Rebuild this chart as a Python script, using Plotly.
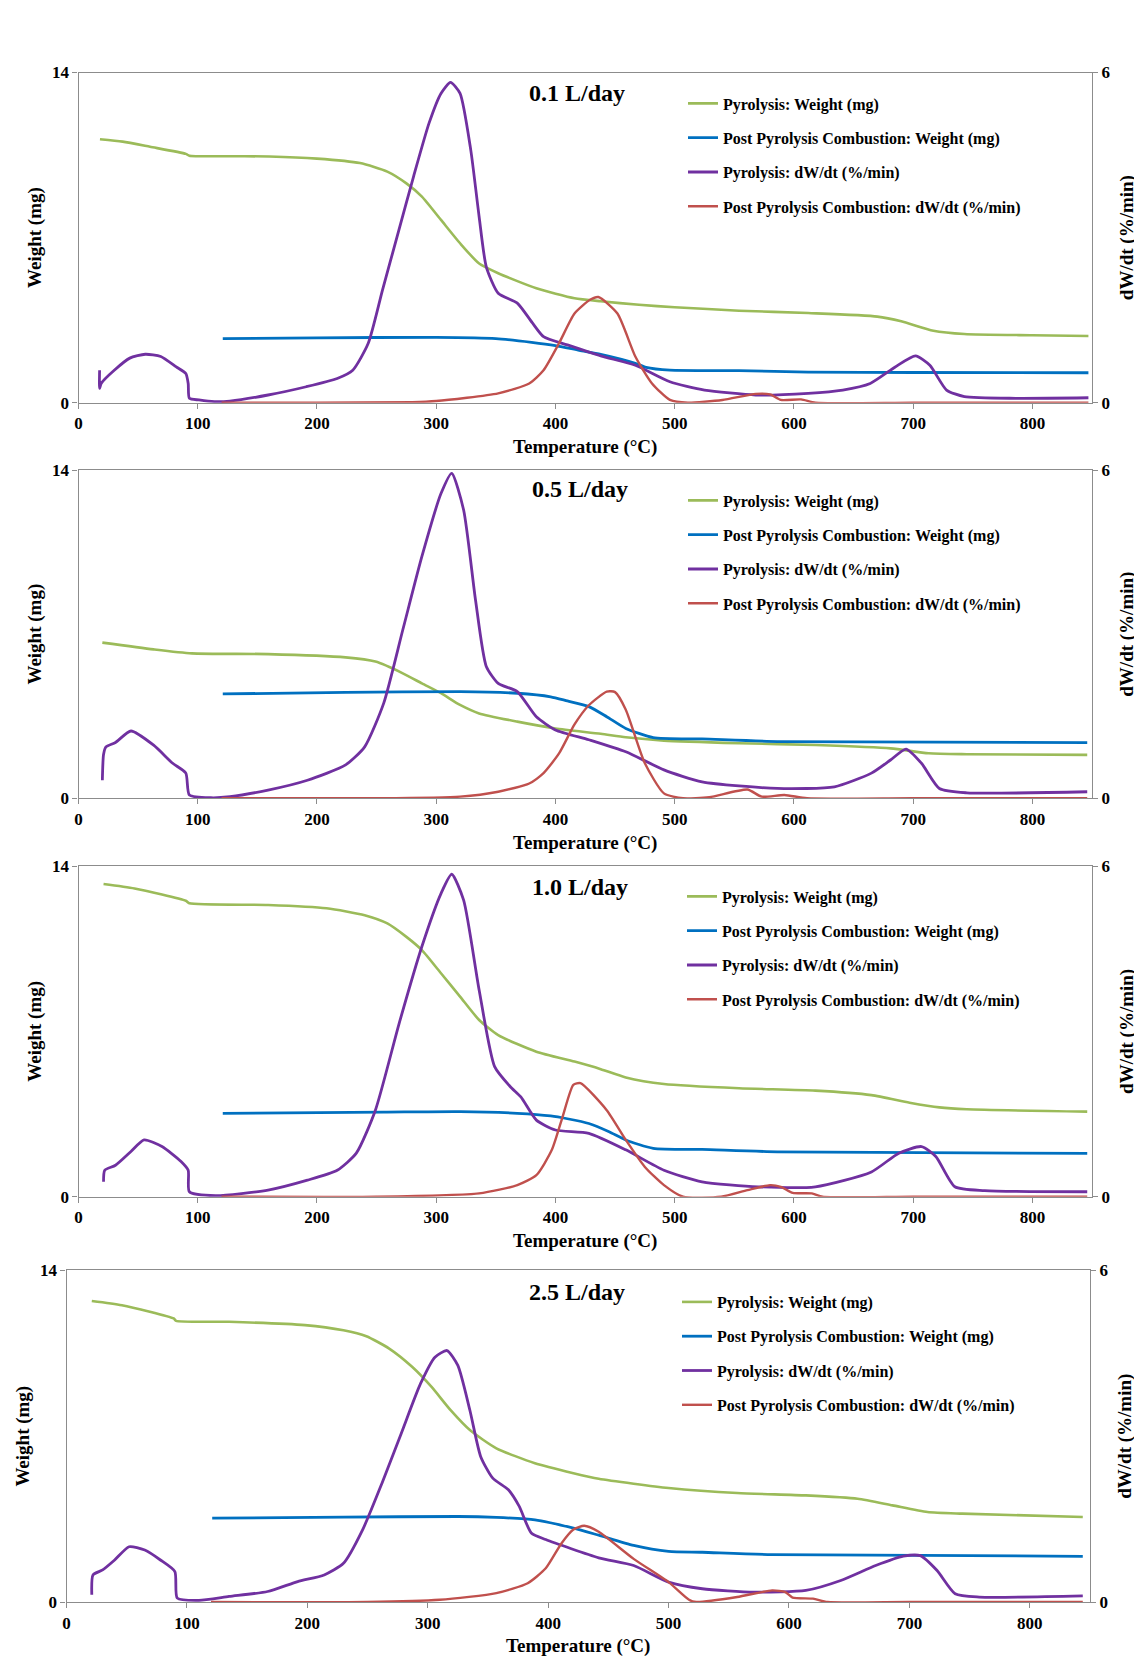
import plotly.graph_objects as go

# ---------------- data ----------------
PANEL_TITLES = ["0.1 L/day", "0.5 L/day", "1.0 L/day", "2.5 L/day"]
SERIES_NAMES = ["Pyrolysis: Weight (mg)",
                "Post Pyrolysis Combustion: Weight (mg)",
                "Pyrolysis: dW/dt (%/min)",
                "Post Pyrolysis Combustion: dW/dt (%/min)"]
X_TICKS = [0, 100, 200, 300, 400, 500, 600, 700, 800]
WEIGHT_TICKS = [0, 14]
DWDT_TICKS = [0, 6]

# Panel 1: 0.1 L/day
P1_PYRO_W_T = [18, 37, 60, 90, 93, 130, 160, 200, 236, 259, 275, 288, 304, 320, 336, 352, 384, 416, 438, 470, 500, 554, 612, 670, 690, 717, 743, 800, 847]
P1_PYRO_W = [11.17, 11.07, 10.85, 10.55, 10.47, 10.45, 10.44, 10.35, 10.16, 9.8, 9.3, 8.74, 7.75, 6.76, 5.9, 5.49, 4.85, 4.43, 4.3, 4.15, 4.05, 3.9, 3.8, 3.65, 3.45, 3.05, 2.91, 2.86, 2.83]
P1_POST_W_T = [121, 200, 300, 350, 380, 400, 420, 438, 467, 476, 496, 554, 612, 700, 847]
P1_POST_W = [2.72, 2.75, 2.77, 2.72, 2.56, 2.42, 2.22, 2.05, 1.67, 1.5, 1.38, 1.36, 1.3, 1.28, 1.27]
P1_PYRO_D_T = [17.7, 17.7, 19, 30, 43, 56, 69, 82, 90, 92, 93, 101, 114, 127, 159, 191, 217, 230, 243, 255, 268, 281, 294, 304, 312, 320, 329, 336, 342, 352, 368, 381, 390, 410, 438, 467, 496, 525, 568, 612, 641, 664, 685, 702, 714, 728, 743, 786, 847]
P1_PYRO_D = [0.59, 0.26, 0.35, 0.59, 0.81, 0.88, 0.84, 0.65, 0.53, 0.35, 0.08, 0.05, 0.02, 0.03, 0.14, 0.29, 0.44, 0.59, 1.08, 2.05, 3.08, 4.11, 5.08, 5.62, 5.82, 5.62, 4.59, 3.38, 2.47, 1.99, 1.81, 1.44, 1.2, 1.05, 0.85, 0.68, 0.38, 0.23, 0.14, 0.17, 0.23, 0.35, 0.65, 0.85, 0.68, 0.23, 0.11, 0.08, 0.09]
P1_POST_D_T = [120, 200, 280, 300, 352, 378, 390, 403, 416, 429, 436, 452, 467, 481, 496, 511, 540, 568, 580, 589, 606, 618, 700, 847]
P1_POST_D = [0.0, 0.0, 0.01, 0.03, 0.17, 0.35, 0.59, 1.08, 1.62, 1.87, 1.92, 1.62, 0.84, 0.35, 0.05, 0.0, 0.05, 0.16, 0.15, 0.05, 0.06, 0.0, 0.0, 0.0]

# Panel 2: 0.5 L/day
P2_PYRO_W_T = [20, 63, 95, 159, 224, 249, 272, 288, 304, 320, 336, 368, 400, 438, 459, 491, 554, 618, 681, 713, 745, 846]
P2_PYRO_W = [6.64, 6.35, 6.18, 6.15, 6.01, 5.83, 5.33, 4.9, 4.48, 3.98, 3.62, 3.27, 2.98, 2.75, 2.6, 2.46, 2.35, 2.27, 2.13, 1.92, 1.88, 1.85]
P2_POST_W_T = [121, 224, 320, 368, 396, 410, 428, 443, 459, 482, 523, 586, 846]
P2_POST_W = [4.45, 4.52, 4.55, 4.48, 4.33, 4.15, 3.91, 3.48, 2.98, 2.59, 2.53, 2.42, 2.37]
P2_PYRO_D_T = [20, 21, 23, 31, 44, 63, 79, 90, 93, 111, 127, 159, 192, 224, 240, 256, 272, 288, 304, 313, 323, 333, 342, 352, 368, 384, 400, 428, 459, 491, 523, 586, 634, 665, 681, 694, 707, 722, 745, 846]
P2_PYRO_D = [0.33, 0.8, 0.94, 1.02, 1.23, 0.97, 0.64, 0.46, 0.06, 0.01, 0.03, 0.15, 0.33, 0.61, 0.94, 1.74, 3.08, 4.42, 5.57, 5.94, 5.27, 3.62, 2.41, 2.1, 1.95, 1.49, 1.25, 1.07, 0.85, 0.52, 0.30, 0.18, 0.21, 0.46, 0.7, 0.9, 0.64, 0.18, 0.10, 0.12]
P2_POST_D_T = [120, 250, 320, 352, 378, 390, 403, 416, 428, 443, 450, 459, 475, 491, 507, 529, 561, 573, 592, 611, 700, 846]
P2_POST_D = [0.0, 0.0, 0.03, 0.12, 0.27, 0.46, 0.82, 1.35, 1.7, 1.95, 1.94, 1.62, 0.64, 0.09, 0.0, 0.02, 0.16, 0.03, 0.06, 0.0, 0.0, 0.0]

# Panel 3: 1.0 L/day
P3_PYRO_W_T = [21, 47, 90, 93, 159, 208, 240, 259, 275, 288, 304, 320, 336, 352, 384, 416, 438, 459, 491, 554, 618, 665, 697, 722, 745, 846]
P3_PYRO_W = [13.24, 13.05, 12.53, 12.42, 12.35, 12.21, 11.92, 11.57, 11.0, 10.44, 9.46, 8.47, 7.48, 6.84, 6.14, 5.72, 5.4, 5.05, 4.77, 4.59, 4.49, 4.3, 3.98, 3.78, 3.7, 3.6]
P3_POST_W_T = [121, 256, 320, 368, 396, 410, 428, 445, 459, 482, 523, 586, 846]
P3_POST_W = [3.53, 3.58, 3.6, 3.53, 3.42, 3.3, 3.1, 2.75, 2.4, 2.05, 2.0, 1.9, 1.83]
P3_PYRO_D_T = [21, 22, 31, 44, 55, 70, 86, 92, 93, 115, 159, 192, 217, 233, 249, 269, 288, 304, 313, 323, 336, 349, 362, 371, 384, 400, 428, 459, 491, 523, 570, 618, 665, 688, 707, 719, 735, 760, 846]
P3_PYRO_D = [0.27, 0.48, 0.57, 0.82, 1.03, 0.91, 0.64, 0.48, 0.09, 0.02, 0.12, 0.3, 0.48, 0.79, 1.57, 3.15, 4.54, 5.5, 5.85, 5.38, 3.75, 2.36, 2.0, 1.81, 1.39, 1.21, 1.15, 0.85, 0.48, 0.27, 0.18, 0.18, 0.45, 0.79, 0.91, 0.73, 0.18, 0.11, 0.09]
P3_POST_D_T = [120, 250, 336, 368, 384, 397, 406, 415, 421, 443, 459, 475, 491, 507, 539, 561, 580, 589, 599, 615, 624, 700, 846]
P3_POST_D = [0.0, 0.0, 0.06, 0.21, 0.39, 0.85, 1.45, 2.03, 2.06, 1.57, 1.03, 0.54, 0.21, 0.0, 0.0, 0.12, 0.21, 0.18, 0.07, 0.06, 0.0, 0.0, 0.0]

# Panel 4: 2.5 L/day
P4_PYRO_W_T = [21, 46, 89, 91, 135, 198, 230, 249, 268, 287, 303, 319, 335, 357, 389, 421, 442, 471, 500, 557, 614, 657, 686, 715, 744, 844]
P4_PYRO_W = [12.71, 12.53, 11.97, 11.87, 11.83, 11.69, 11.47, 11.22, 10.7, 9.93, 9.09, 8.1, 7.26, 6.49, 5.86, 5.44, 5.2, 4.99, 4.81, 4.6, 4.5, 4.36, 4.08, 3.8, 3.73, 3.59]
P4_POST_W_T = [121, 230, 325, 357, 389, 421, 442, 471, 500, 528, 586, 844]
P4_POST_W = [3.54, 3.58, 3.61, 3.57, 3.47, 3.12, 2.82, 2.39, 2.14, 2.1, 2.0, 1.93]
P4_PYRO_D_T = [21, 22, 30, 40, 52, 65, 78, 90, 92, 110, 135, 167, 192, 214, 230, 246, 262, 278, 294, 306, 316, 325, 335, 344, 354, 367, 376, 386, 398, 442, 471, 500, 528, 571, 614, 643, 672, 695, 709, 723, 738, 758, 844]
P4_PYRO_D = [0.13, 0.49, 0.58, 0.76, 1.0, 0.94, 0.76, 0.55, 0.07, 0.03, 0.1, 0.19, 0.37, 0.49, 0.7, 1.31, 2.15, 3.05, 3.95, 4.43, 4.55, 4.28, 3.47, 2.63, 2.24, 2.03, 1.73, 1.25, 1.13, 0.8, 0.66, 0.36, 0.24, 0.18, 0.21, 0.39, 0.66, 0.83, 0.84, 0.57, 0.15, 0.09, 0.11]
P4_POST_D_T = [120, 250, 310, 357, 383, 398, 411, 421, 430, 442, 471, 500, 517, 523, 557, 586, 597, 603, 620, 632, 700, 844]
P4_POST_D = [0.0, 0.0, 0.04, 0.16, 0.34, 0.61, 1.06, 1.31, 1.38, 1.27, 0.78, 0.36, 0.04, 0.0, 0.09, 0.21, 0.18, 0.08, 0.06, 0.0, 0.0, 0.0]

PANEL_DATA = [
    [(P1_PYRO_W_T, P1_PYRO_W), (P1_POST_W_T, P1_POST_W), (P1_PYRO_D_T, P1_PYRO_D), (P1_POST_D_T, P1_POST_D)],
    [(P2_PYRO_W_T, P2_PYRO_W), (P2_POST_W_T, P2_POST_W), (P2_PYRO_D_T, P2_PYRO_D), (P2_POST_D_T, P2_POST_D)],
    [(P3_PYRO_W_T, P3_PYRO_W), (P3_POST_W_T, P3_POST_W), (P3_PYRO_D_T, P3_PYRO_D), (P3_POST_D_T, P3_POST_D)],
    [(P4_PYRO_W_T, P4_PYRO_W), (P4_POST_W_T, P4_POST_W), (P4_PYRO_D_T, P4_PYRO_D), (P4_POST_D_T, P4_POST_D)],
]

# ---------------- style / layout ----------------
PAGE_OFFSET = 8            # default body margin of the html page
FIG_W, FIG_H = 1142 - PAGE_OFFSET, 1659 - PAGE_OFFSET
COLORS = ["#9BBB59", "#0070C0", "#7030A0", "#C0504D"]
WIDTHS = [2.6, 2.8, 2.8, 2.4]
FONT = "Liberation Serif"
AXIS_COLOR = "#8C8C8C"

# plot boxes in page pixels: (left, right, top, bottom)
BOXES = [(78.5, 1092, 72.5, 402.7),
         (78.5, 1092, 470, 798.3),
         (78.5, 1092, 866, 1196.7),
         (66.5, 1090, 1270.4, 1602)]
TITLE_POS = [(577, 93), (580, 489), (580, 887), (577, 1292)]
LEGEND_POS = [(683, 86.5), (683, 483.5), (682, 879.5), (677, 1285)]


def fx(px):
    return (px - PAGE_OFFSET) / FIG_W


def fy(py):
    return 1 - (py - PAGE_OFFSET) / FIG_H


fig = go.Figure()
layout = dict(
    width=FIG_W, height=FIG_H,
    margin=dict(l=0, r=0, t=0, b=0, pad=0, autoexpand=False),
    paper_bgcolor="white", plot_bgcolor="white",
    font=dict(family=FONT, color="black", weight="bold"),
    showlegend=True,
)
annotations = []

for i, series in enumerate(PANEL_DATA):
    n = i + 1
    xa = f"x{n}" if n > 1 else "x"
    yl_id = 2 * n - 1
    yr_id = 2 * n
    yl = f"y{yl_id}" if yl_id > 1 else "y"
    yr = f"y{yr_id}"
    leg = "legend" if n == 1 else f"legend{n}"
    for k, (tx, vy) in enumerate(series):
        fig.add_trace(go.Scatter(
            x=tx, y=vy, mode="lines", name=SERIES_NAMES[k],
            line=dict(color=COLORS[k], width=WIDTHS[k], shape="spline", smoothing=0.6),
            xaxis=xa, yaxis=(yl if k < 2 else yr),
            legend=leg, legendgroup=f"p{n}s{k}",
            hoverinfo="skip",
        ))
    l, r, t, b = BOXES[i]
    xkey = "xaxis" if n == 1 else f"xaxis{n}"
    ylkey = "yaxis" if yl_id == 1 else f"yaxis{yl_id}"
    yrkey = f"yaxis{yr_id}"
    layout[xkey] = dict(
        domain=[fx(l), fx(r)], anchor=yl, range=[0, 850], automargin=False,
        tickmode="array", tickvals=X_TICKS, ticks="outside", ticklen=5,
        tickcolor=AXIS_COLOR, showline=True, linecolor=AXIS_COLOR, linewidth=1.3,
        mirror=True, showgrid=False, zeroline=False,
        tickfont=dict(family=FONT, size=17, weight="bold"),
        title=dict(text="Temperature (°C)", font=dict(family=FONT, size=19, weight="bold"), standoff=7),
    )
    layout[ylkey] = dict(
        domain=[fy(b), fy(t)], anchor=xa, range=[0, 14], automargin=False,
        tickmode="array", tickvals=WEIGHT_TICKS, ticks="outside", ticklen=5,
        tickcolor=AXIS_COLOR, showline=True, linecolor=AXIS_COLOR, linewidth=1.3,
        showgrid=False, zeroline=False,
        tickfont=dict(family=FONT, size=17, weight="bold"),
        title=dict(text="Weight (mg)", font=dict(family=FONT, size=19, weight="bold"), standoff=5),
    )
    layout[yrkey] = dict(
        domain=[fy(b), fy(t)], anchor=xa, overlaying=yl, side="right", range=[0, 6], automargin=False,
        tickmode="array", tickvals=DWDT_TICKS, ticks="outside", ticklen=5,
        tickcolor=AXIS_COLOR, showline=True, linecolor=AXIS_COLOR, linewidth=1.3,
        showgrid=False, zeroline=False,
        tickfont=dict(family=FONT, size=17, weight="bold"),
        title=dict(text="dW/dt (%/min)", font=dict(family=FONT, size=19, weight="bold"), standoff=10),
    )
    lx, ly = LEGEND_POS[i]
    layout[leg] = dict(
        x=fx(lx), y=fy(ly), xanchor="left", yanchor="top",
        bgcolor="rgba(0,0,0,0)", borderwidth=0,
        font=dict(family=FONT, size=16, weight="bold", color="black"),
        tracegroupgap=10.5, traceorder="grouped",
    )
    tx_, ty_ = TITLE_POS[i]
    annotations.append(dict(
        text=PANEL_TITLES[i], x=fx(tx_), y=fy(ty_), xref="paper", yref="paper",
        xanchor="center", yanchor="middle", showarrow=False,
        font=dict(family=FONT, size=24, weight="bold", color="black"),
    ))

layout["annotations"] = annotations
fig.update_layout(**layout)
fig.write_html("out.html")
